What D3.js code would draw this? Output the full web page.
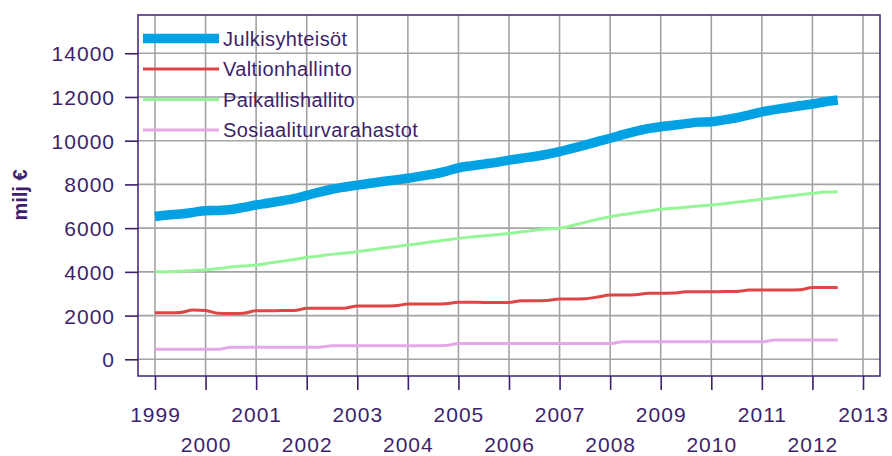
<!DOCTYPE html>
<html>

<head>
    <meta charset="utf-8">
    <script src="https://cdnjs.cloudflare.com/ajax/libs/d3/7.8.5/d3.min.js"></script>
    <style>
        body {
            margin: 0;
            background: #fff;
        }

        .axislabel {
            fill: #3d1f6b;
            font-family: 'Liberation Sans', Arial, sans-serif;
            font-size: 21px;
            letter-spacing: 1px;
        }

        .legendfont {
            fill: #3d1f6b;
            font-family: 'Liberation Sans', Arial, sans-serif;
            font-size: 20px;
            letter-spacing: 0.4px;
        }

        .ytitle {
            fill: #3d1f6b;
            font-family: 'Liberation Sans', Arial, sans-serif;
            font-size: 20px;
            font-weight: bold;
        }
    </style>
</head>

<body>
    <script>
        // quarterly data, 1999Q1 .. 2012Q3
        let startYear = 1999
        let yearTicks = [1999, 2000, 2001, 2002, 2003, 2004, 2005, 2006, 2007, 2008, 2009, 2010, 2011, 2012, 2013]
        let valueTicks = [0, 2000, 4000, 6000, 8000, 10000, 12000, 14000]

        let julkisyhteisot = [
            6530, 6600, 6650, 6720,
            6800, 6810, 6850, 6950,
            7060, 7150, 7250, 7350,
            7500, 7650, 7780, 7880,
            7970, 8050, 8130, 8200,
            8280, 8380, 8470, 8600,
            8760, 8850, 8930, 9010,
            9110, 9200, 9280, 9380,
            9500, 9650, 9800, 9960,
            10110, 10280, 10430, 10550,
            10640, 10710, 10780, 10850,
            10870, 10950, 11050, 11180,
            11320, 11420, 11510, 11600,
            11680, 11780, 11860
        ]
        let valtionhallinto = [
            2130, 2130, 2140, 2250,
            2230, 2110, 2100, 2110,
            2220, 2220, 2230, 2230,
            2330, 2330, 2340, 2340,
            2440, 2440, 2440, 2450,
            2530, 2530, 2530, 2540,
            2610, 2610, 2600, 2600,
            2600, 2680, 2680, 2690,
            2760, 2760, 2770, 2850,
            2940, 2940, 2950, 3020,
            3020, 3030, 3090, 3090,
            3090, 3100, 3100, 3170,
            3170, 3170, 3170, 3180,
            3280, 3280, 3280
        ]
        let paikallishallinto = [
            4000, 4010, 4030, 4060,
            4090, 4150, 4220, 4270,
            4310, 4400, 4480, 4570,
            4660, 4730, 4800, 4860,
            4920, 5000, 5080, 5150,
            5230, 5300, 5380, 5460,
            5530, 5600, 5650, 5700,
            5760, 5830, 5900, 5960,
            5990, 6120, 6260, 6400,
            6520, 6620, 6700, 6780,
            6860, 6910, 6960, 7010,
            7060, 7120, 7190, 7250,
            7320, 7390, 7460, 7530,
            7590, 7650, 7670
        ]
        let sosiaaliturva = [
            460, 460, 460, 460,
            460, 460, 550, 550,
            550, 550, 550, 550,
            550, 550, 620, 620,
            620, 620, 620, 620,
            620, 620, 620, 630,
            720, 720, 720, 720,
            720, 720, 720, 720,
            720, 720, 720, 720,
            720, 800, 800, 800,
            800, 800, 800, 800,
            800, 800, 800, 800,
            800, 880, 880, 880,
            880, 880, 880
        ]

        let seriesNames = ['Julkisyhteisöt', 'Valtionhallinto', 'Paikallishallito', 'Sosiaaliturvarahastot']
        let seriesValues = [julkisyhteisot, valtionhallinto, paikallishallinto, sosiaaliturva]
        let colors = ['#00a2e4', '#e04545', '#96f696', '#e4a8e6']
        let widths = [9.5, 3, 3, 3]

        const w = 892;
        const h = 456;

        const mLeft = 138, mRight = 880, mTop = 15, mBottom = 376

        const svg = d3.select("body")
            .append("svg")
            .attr("width", w)
            .attr("height", h);

        const x = d3.scaleLinear().domain([1998.664, 2013.336]).range([mLeft, mRight])
        const y = d3.scaleLinear().domain([-764, 15750]).range([mBottom, mTop])

        // grid
        svg.append("g").selectAll("line")
            .data(yearTicks)
            .enter()
            .append("line")
            .attr("x1", d => x(d)).attr("x2", d => x(d))
            .attr("y1", mTop).attr("y2", mBottom)
            .attr("stroke", "#a3a3a3")
            .attr("stroke-width", 1.6)

        svg.append("g").selectAll("line")
            .data(valueTicks)
            .enter()
            .append("line")
            .attr("x1", mLeft).attr("x2", mRight)
            .attr("y1", d => y(d)).attr("y2", d => y(d))
            .attr("stroke", "#a3a3a3")
            .attr("stroke-width", 1.6)

        // legend (no box, grid shows through)
        let legend = svg.append("g")
        seriesNames.forEach((name, i) => {
            let ly = 38.5 + i * 30.5
            legend.append("line")
                .attr("x1", 143).attr("x2", 219)
                .attr("y1", ly).attr("y2", ly)
                .attr("stroke", colors[i])
                .attr("stroke-width", widths[i])
            legend.append("text")
                .text(name)
                .attr("x", 223)
                .attr("y", ly + 7)
                .attr("class", "legendfont")
        })

        // lines
        const line = d3.line()
            .x((d, i) => x(startYear + i * 0.25))
            .y(d => y(d))
            .curve(d3.curveMonotoneX)

        seriesValues.slice().reverse().forEach((vals, j) => {
            let i = seriesValues.length - 1 - j
            svg.append("path")
                .datum(vals)
                .attr("d", line)
                .attr("fill", "none")
                .attr("stroke", colors[i])
                .attr("stroke-width", widths[i])
                .attr("stroke-linejoin", "round")
        })

        // frame
        svg.append("rect")
            .attr("x", mLeft).attr("y", mTop)
            .attr("width", mRight - mLeft).attr("height", mBottom - mTop)
            .attr("fill", "none")
            .attr("stroke", "#4a2c82")
            .attr("stroke-width", 1.6)

        // axes
        const yAxis = d3.axisLeft(y).tickValues(valueTicks).tickFormat(d3.format("d")).tickSize(13).tickPadding(10)
        const gy = svg.append("g").attr("transform", `translate(${mLeft},0)`).call(yAxis)
        gy.select(".domain").remove()
        gy.attr("font-family", null).attr("font-size", null)
        gy.selectAll("line").attr("stroke", "#3d1f6b").attr("stroke-width", 1.6)
        gy.selectAll("text").attr("class", "axislabel").attr("dy", "0.36em").attr("fill", null)

        const xAxis = d3.axisBottom(x).tickValues(yearTicks).tickFormat(d3.format("d")).tickSize(14).tickPadding(0)
        const gx = svg.append("g").attr("transform", `translate(0,${mBottom})`).call(xAxis)
        gx.select(".domain").remove()
        gx.attr("font-family", null).attr("font-size", null)
        gx.selectAll("line").attr("stroke", "#3d1f6b").attr("stroke-width", 1.6)
        gx.selectAll("text").attr("class", "axislabel")
            .attr("fill", null)
            .attr("dy", null)
            .attr("y", (d, i) => i % 2 == 0 ? 46 : 76)

        svg.append("text")
            .text("milj €")
            .attr("class", "ytitle")
            .attr("transform", "translate(27,195) rotate(-90)")
            .attr("text-anchor", "middle")
    </script>
</body>

</html>
